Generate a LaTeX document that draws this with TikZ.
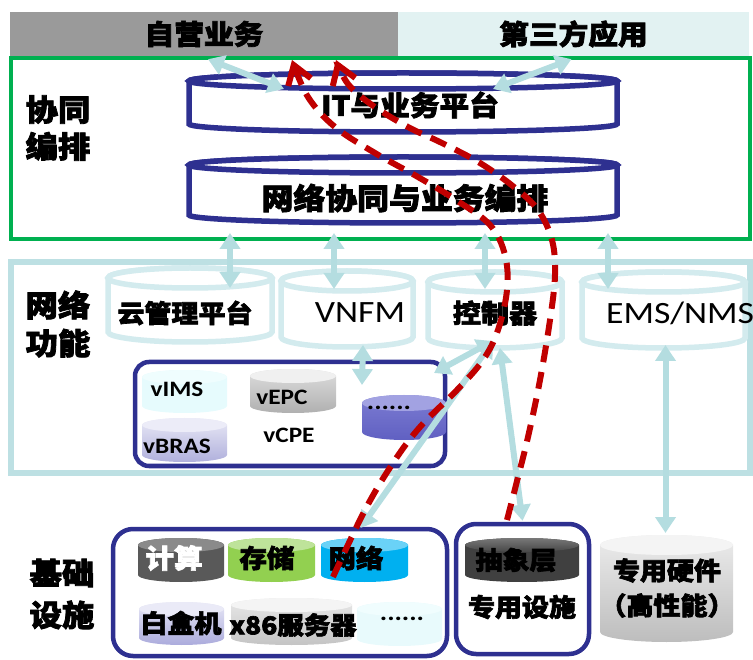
\documentclass[tikz,border=0pt]{standalone}
\usepackage{fontspec}
\setmainfont{Noto Sans CJK SC}[FakeStretch=1.08, BoldFeatures={FakeBold=2.6}]
\newfontfamily\latf{Carlito}[FakeStretch=1.15]
\usetikzlibrary{arrows.meta,calc}
\definecolor{topgray}{HTML}{9A9A9A}
\definecolor{topcyan}{HTML}{E2F2F2}
\definecolor{xgreen}{HTML}{00B050}
\definecolor{dblue}{HTML}{2E3090}
\definecolor{nfbox}{HTML}{BDE0E3}
\definecolor{nfcyl}{HTML}{D3EBEE}
\definecolor{arrc}{HTML}{B4DDE0}
\definecolor{dred}{HTML}{C00000}
\definecolor{icyA}{HTML}{E6FBFD}
\definecolor{icyB}{HTML}{EFFDFE}
\definecolor{icyC}{HTML}{E8FAFC}
\definecolor{icyD}{HTML}{F0FDFE}
\newcommand\cyl[8]{%
 \path[#7] (#2,#3+#6) -- (#2,#5-#6) arc[start angle=180,end angle=0,x radius={(#4-#2)/2},y radius=#6] -- (#4,#3+#6) arc[start angle=0,end angle=-180,x radius={(#4-#2)/2},y radius=#6] -- cycle;
 \path[#8] ({(#2+#4)/2},#3+#6) ellipse[x radius={(#4-#2)/2},y radius=#6];
 \node[inner sep=0pt,outer sep=0pt,minimum width={(#4-#2)*1pt},minimum height={(#5-#3)*1pt}] (#1) at ({(#2+#4)/2},{(#3+#5)/2}) {};
}
\tikzset{
 zh/.style={font=\fontsize{#1}{#1}\selectfont\bfseries, inner sep=0pt},
 zhl/.style={font=\fontsize{30}{#1}\selectfont\bfseries, align=center, inner sep=0pt},
 la/.style={font=\latf\fontsize{#1}{#1}\selectfont, inner sep=0pt},
 lab/.style={font=\latf\bfseries\fontsize{#1}{#1}\selectfont, inner sep=0pt},
 barrow/.style={draw=arrc, line width=6pt, {Triangle[width=20pt,length=16pt]}-{Triangle[width=20pt,length=16pt]}},
 reddash/.style={draw=dred, line width=6pt, dash pattern=on 17pt off 10pt, -{Straight Barb[length=18pt,width=24pt]}},
 outcyl/.style={fill=white, draw=dblue, line width=5.5pt},
 nfc/.style={fill=white, draw=nfcyl, line width=5.5pt},
 rbox/.style={draw=dblue, line width=4.5pt, inner sep=0pt},
}
\begin{document}
\begin{tikzpicture}[x=1pt,y=-1pt]
\useasboundingbox (0,0) rectangle (753,660);
% top bar
\node[fill=topgray, minimum width=388pt, minimum height=44pt, inner sep=0pt, zh=27.5] (zy) at (204,34) {自营业务};
\node[fill=topcyan, minimum width=351pt, minimum height=44pt, inner sep=0pt, zh=27.5] (dsf) at (573.5,34) {第三方应用};
% orchestration
\node[draw=xgreen, line width=4pt, minimum width=739pt, minimum height=181pt, inner sep=0pt] (xt) at (380.5,148.5) {};
\node[zhl=37] (lxt) at (58,128) {协同\\编排};
\cyl{itp}{189}{73}{617}{132}{8}{outcyl}{outcyl}
\node[zh=27.5] (titp) at (410,105) {IT与业务平台};
\cyl{orch}{189}{157}{617}{223}{8}{outcyl}{outcyl}
\node[zh=29.5] (torch) at (405,198) {网络协同与业务编排};
% network functions
\node[draw=nfbox, line width=6pt, minimum width=739pt, minimum height=211pt, inner sep=0pt] (nf) at (380.5,367.5) {};
\node[zhl=38] (lnf) at (58,324) {网络\\功能};
\cyl{nf1}{108}{268}{272}{342}{10}{nfc}{nfc}
\cyl{nf2}{281}{271}{413}{347}{10}{nfc}{nfc}
\cyl{nf3}{428}{272}{562}{348}{10}{nfc}{nfc}
\cyl{nf4}{582}{272}{745}{348}{10}{nfc}{nfc}
\node[zh=25] (tnf1) at (185,313) {云管理平台};
\node[la=31] (tnf2) at (360,313) {VNFM};
\node[zh=26] (tnf3) at (495,313) {控制器};
\node[la=31, anchor=west] (tnf4) at (606,313) {EMS/NMS};
% inner vnf box
\node[rbox, rounded corners=14pt, minimum width=310pt, minimum height=104pt] (vbox) at (290,414) {};
\cyl{vims}{142}{370}{227}{413}{7}{fill=icyA}{fill=icyB}
\cyl{vbras}{142}{418}{227}{462}{7}{top color={rgb,255:red,233;green,233;blue,246},bottom color={rgb,255:red,176;green,176;blue,220}}{fill={rgb,255:red,236;green,236;blue,248}}
\cyl{vepc}{250}{369}{336}{413}{7}{top color={rgb,255:red,222;green,222;blue,222},bottom color={rgb,255:red,176;green,176;blue,176}}{fill={rgb,255:red,240;green,240;blue,240}}
\cyl{vmore}{362}{395}{446}{440}{8}{top color={rgb,255:red,124;green,124;blue,210},bottom color={rgb,255:red,96;green,96;blue,194}}{fill={rgb,255:red,162;green,162;blue,226}}
\node[lab=22] (tvims) at (177,389) {vIMS};
\node[lab=22] (tvbras) at (177,446) {vBRAS};
\node[lab=22] (tvepc) at (282,397) {vEPC};
\node[lab=22] (tvcpe) at (289,435) {vCPE};
\node[lab=24] (tvmore) at (389,408) {......};
% infrastructure
\node[zhl=42] (lin) at (62,594) {基础\\设施};
\node[rbox, rounded corners=20pt, minimum width=334pt, minimum height=127pt] (ibox) at (280,592.5) {};
\cyl{calc}{138}{538}{224}{582}{7}{fill={rgb,255:red,89;green,89;blue,89}}{fill={rgb,255:red,138;green,138;blue,138}}
\cyl{stor}{228}{538}{315}{582}{7}{fill={rgb,255:red,146;green,208;blue,80}}{fill={rgb,255:red,190;green,227;blue,154}}
\cyl{netw}{321}{538}{408}{582}{7}{fill={rgb,255:red,0;green,176;blue,240}}{fill={rgb,255:red,106;green,210;blue,247}}
\cyl{wbox}{139}{602}{224}{645}{7}{top color={rgb,255:red,232;green,232;blue,246},bottom color={rgb,255:red,171;green,171;blue,220}}{fill={rgb,255:red,234;green,234;blue,247}}
\cyl{x86}{231}{598}{352}{645}{7}{top color={rgb,255:red,232;green,232;blue,232},bottom color={rgb,255:red,196;green,196;blue,196}}{fill={rgb,255:red,244;green,244;blue,244}}
\cyl{idots}{357}{602}{442}{646}{7}{fill=icyC}{fill=icyD}
\node[zh=26.5, text=white] (tcalc) at (174,558) {计算};
\node[zh=25.5] (tstor) at (267,558) {存储};
\node[zh=25.5] (tnetw) at (356,558) {网络};
\node[zh=25] (twbox) at (181,623) {白盒机};
\node[zh=24.5] (tx86) at (293,625) {x86服务器};
\node[lab=24] (tidots) at (402,619) {......};
% dedicated
\node[rbox, rounded corners=20pt, minimum width=133pt, minimum height=130pt] (dbox) at (522.5,589) {};
\cyl{abs}{465}{538}{579}{582}{7}{fill={rgb,255:red,64;green,64;blue,64}}{top color={rgb,255:red,120;green,120;blue,120},bottom color={rgb,255:red,70;green,70;blue,70}}
\node[zh=25] (tabs) at (516,560) {抽象层};
\node[zh=25] (tdbox) at (522,607) {专用设施};
\cyl{hw}{600}{535}{733}{642}{10}{top color={rgb,255:red,236;green,236;blue,236},bottom color={rgb,255:red,189;green,189;blue,189}}{fill={rgb,255:red,244;green,244;blue,244}}
\node[zhl=35, font=\fontsize{25}{35}\selectfont\bfseries] (thw) at (667,588) {专用硬件\\（高性能）};
% light blue connectors
\draw[barrow] ($(zy.south)+(4,3)$) -- ($(itp.north west)+(95,16)$);
\draw[barrow] ($(dsf.south)+(-2,3)$) -- ($(itp.north east)+(-124,16)$);
\draw[barrow] ($(nf1.north)+(40,-35)$) -- ($(nf1.north)+(40,20)$);
\draw[barrow] ($(nf2.north)+(-13,-38)$) -- ($(nf2.north)+(-13,18)$);
\draw[barrow] ($(nf3.north)+(-10,-39)$) -- ($(nf3.north)+(-10,17)$);
\draw[barrow] ($(nf4.north)+(-55.5,-39)$) -- ($(nf4.north)+(-55.5,17)$);
\draw[barrow] ($(nf2.south)+(16,-2)$) -- ($(vmore.north)+(-42,-10)$);
\draw[barrow] ($(nf3.south)+(-2,-7)$) -- ($(vmore.north)+(30,-22)$);
\draw[barrow] ($(nf3.south)+(-2,-7)$) -- ($(netw.north)+(-4,-10)$);
\draw[barrow] ($(nf3.south)+(5,0)$) -- ($(dbox.north)+(0,-1)$);
\draw[barrow] ($(nf4.south)+(2,-3)$) -- ($(hw.north)+(-1,-2)$);
% red dashed flows
\draw[reddash] plot[smooth,tension=0.6] coordinates {(333,577) (365,510) (393,463) (420,427) (457,390) (483,360) (498,330) (507,290) (505,255) (490,225) (456,200) (418,177) (375,153) (335,127) (308,97) (292,60)};
\draw[reddash] plot[smooth,tension=0.6] coordinates {(507,520) (516,485) (528,437) (540,380) (550,320) (555,275) (552,240) (538,210) (514,187) (480,163) (442,143) (408,127) (372,105) (348,84) (336,60)};
\end{tikzpicture}
\end{document}
